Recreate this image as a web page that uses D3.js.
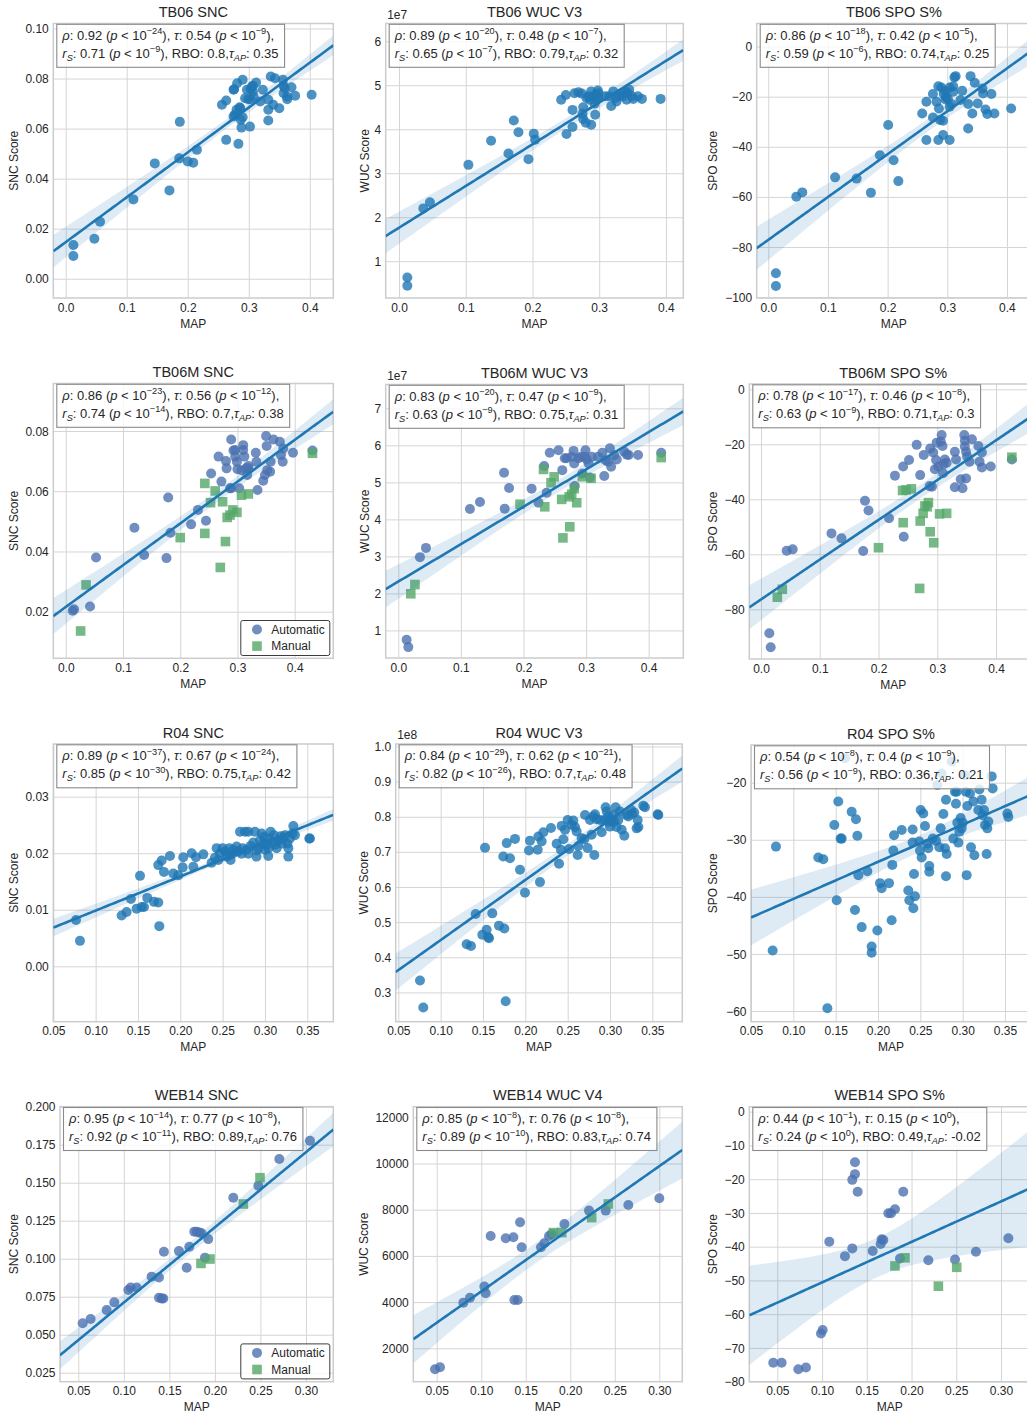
<!DOCTYPE html>
<html>
<head>
<meta charset="utf-8">
<script src="https://cdn.jsdelivr.net/npm/d3@7"></script>
<style>
  html, body { margin: 0; padding: 0; background: #fff; }
  svg { display: block; font-family: "Liberation Sans", Arial, sans-serif; }
</style>
</head>
<body>
<svg id="fig" width="1027" height="1416"></svg>
<script>
// ---------- data: [MAP, score] pairs per panel ----------
const tb06Snc = [[0.0126,0.0135],[0.0126,0.0091],[0.047,0.016],[0.0563,0.0228],[0.111,0.0317],[0.146,0.0461],[0.170,0.0353],[0.186,0.0481],[0.187,0.0627],[0.200,0.0469],[0.209,0.0464],[0.215,0.0515],[0.256,0.0695],[0.263,0.0712],[0.263,0.0555],[0.275,0.0755],[0.276,0.0757],[0.281,0.0781],[0.283,0.0539],[0.275,0.0648],[0.280,0.0675],[0.285,0.0685],[0.287,0.0635],[0.288,0.0604],[0.290,0.0645],[0.290,0.0795],[0.286,0.0681],[0.277,0.0655],[0.299,0.0717],[0.303,0.0717],[0.302,0.0608],[0.303,0.0757],[0.305,0.0768],[0.307,0.0748],[0.312,0.0784],[0.308,0.0728],[0.297,0.0755],[0.323,0.0755],[0.319,0.0708],[0.332,0.0715],[0.332,0.0675],[0.332,0.0632],[0.336,0.0808],[0.343,0.0801],[0.340,0.0695],[0.350,0.0681],[0.356,0.0795],[0.357,0.0771],[0.359,0.0761],[0.357,0.0741],[0.363,0.0728],[0.363,0.0717],[0.370,0.0765],[0.376,0.0731],[0.403,0.0735],[0.307,0.0771],[0.294,0.0721]];

// WUC scores in units of 1e7
const tb06Wuc = [[0.0125,0.63],[0.0125,0.44],[0.0365,2.20],[0.0464,2.34],[0.104,3.19],[0.138,3.74],[0.164,3.45],[0.172,4.20],[0.179,3.93],[0.194,3.32],[0.202,3.90],[0.204,3.76],[0.243,4.67],[0.250,4.78],[0.251,3.89],[0.260,4.05],[0.260,4.44],[0.263,4.82],[0.269,4.84],[0.274,4.81],[0.276,4.50],[0.275,4.35],[0.276,4.23],[0.280,4.15],[0.284,4.75],[0.286,4.67],[0.288,4.86],[0.291,4.75],[0.293,4.58],[0.288,4.10],[0.294,4.33],[0.298,4.88],[0.296,4.67],[0.299,4.71],[0.281,4.71],[0.295,4.78],[0.309,4.75],[0.315,4.75],[0.318,4.53],[0.321,4.86],[0.324,4.71],[0.326,4.63],[0.330,4.75],[0.334,4.82],[0.339,4.86],[0.341,4.67],[0.345,4.90],[0.343,4.82],[0.349,4.75],[0.351,4.69],[0.358,4.75],[0.364,4.69],[0.392,4.69],[0.336,4.75],[0.299,4.82]];

const tb06Spo = [[0.0128,-90.5],[0.0128,-95.6],[0.047,-59.9],[0.057,-58.2],[0.112,-52.2],[0.148,-52.7],[0.172,-58.3],[0.187,-43.4],[0.201,-31.3],[0.210,-45.4],[0.218,-53.7],[0.258,-26.7],[0.265,-22.0],[0.265,-37.3],[0.276,-18.9],[0.276,-28.3],[0.282,-22.0],[0.285,-15.8],[0.285,-37.3],[0.286,-24.7],[0.288,-29.3],[0.290,-16.3],[0.293,-29.6],[0.293,-35.3],[0.294,-18.9],[0.296,-17.6],[0.297,-21.1],[0.301,-20.7],[0.304,-37.3],[0.304,-24.0],[0.307,-22.9],[0.310,-18.0],[0.312,-12.3],[0.314,-11.8],[0.310,-15.8],[0.304,-16.3],[0.322,-21.3],[0.325,-17.6],[0.335,-22.9],[0.335,-32.7],[0.339,-11.8],[0.342,-26.7],[0.346,-14.4],[0.351,-22.7],[0.359,-16.7],[0.360,-18.7],[0.364,-25.1],[0.367,-26.9],[0.374,-18.9],[0.379,-26.7],[0.407,-24.7],[0.298,-20.1]];

const tb06mSncAuto = [[0.0122,0.0203],[0.0146,0.0208],[0.0425,0.0217],[0.053,0.0380],[0.120,0.0479],[0.137,0.0388],[0.176,0.0378],[0.179,0.0579],[0.183,0.0462],[0.219,0.0490],[0.231,0.0538],[0.245,0.0502],[0.254,0.0659],[0.267,0.0715],[0.272,0.0632],[0.280,0.0700],[0.281,0.0676],[0.289,0.0772],[0.289,0.0610],[0.293,0.0735],[0.296,0.0715],[0.299,0.0698],[0.300,0.0673],[0.303,0.0610],[0.307,0.0670],[0.310,0.0753],[0.312,0.0715],[0.315,0.0676],[0.317,0.0654],[0.319,0.0684],[0.332,0.0728],[0.333,0.0698],[0.335,0.0604],[0.345,0.0635],[0.348,0.0654],[0.350,0.0783],[0.351,0.0750],[0.352,0.0670],[0.358,0.0698],[0.357,0.0665],[0.363,0.0772],[0.374,0.0764],[0.376,0.0720],[0.379,0.0698],[0.380,0.0742],[0.397,0.0728],[0.431,0.0735],[0.296,0.0737],[0.287,0.0610],[0.310,0.0737],[0.319,0.0676]];
const tb06mSncManual = [[0.0355,0.0289],[0.026,0.0136],[0.200,0.0446],[0.243,0.0460],[0.243,0.0626],[0.253,0.0562],[0.261,0.0601],[0.270,0.0347],[0.274,0.0565],[0.279,0.0433],[0.282,0.0513],[0.287,0.0521],[0.292,0.0538],[0.299,0.0530],[0.307,0.0587],[0.319,0.0591],[0.431,0.0726]];

const tb06mWucAuto = [[0.0133,0.747],[0.016,0.549],[0.0346,2.98],[0.0442,3.23],[0.1145,4.28],[0.1305,4.47],[0.169,5.26],[0.170,4.29],[0.177,4.85],[0.213,4.83],[0.224,4.45],[0.233,5.44],[0.237,4.72],[0.242,5.80],[0.256,5.87],[0.262,5.33],[0.269,5.65],[0.277,5.69],[0.280,5.85],[0.281,5.51],[0.282,4.90],[0.288,5.65],[0.292,5.69],[0.294,5.24],[0.299,5.87],[0.301,5.62],[0.304,5.51],[0.306,5.13],[0.309,5.69],[0.319,5.69],[0.326,5.80],[0.329,5.17],[0.331,5.60],[0.335,5.56],[0.338,5.92],[0.340,5.42],[0.345,5.74],[0.349,5.62],[0.361,5.83],[0.365,5.75],[0.368,5.74],[0.383,5.74],[0.420,5.80],[0.266,5.65],[0.298,5.69]];
const tb06mWucManual = [[0.020,1.99],[0.0266,2.24],[0.1945,4.41],[0.232,5.35],[0.234,4.34],[0.244,4.99],[0.249,5.15],[0.261,4.54],[0.263,3.50],[0.273,4.61],[0.274,3.80],[0.277,4.68],[0.281,4.83],[0.285,4.45],[0.294,5.15],[0.308,5.11],[0.420,5.67]];

const tb06mSpoAuto = [[0.0142,-88.7],[0.0165,-93.8],[0.0437,-58.7],[0.0539,-58.2],[0.120,-52.4],[0.137,-54.2],[0.174,-58.8],[0.177,-40.5],[0.183,-44.1],[0.218,-46.9],[0.228,-31.4],[0.242,-28.1],[0.243,-53.6],[0.252,-25.7],[0.265,-20.2],[0.271,-31.2],[0.277,-23.9],[0.288,-21.5],[0.287,-35.2],[0.291,-35.4],[0.293,-23.0],[0.296,-29.1],[0.298,-25.7],[0.299,-19.4],[0.302,-28.1],[0.306,-19.0],[0.3075,-16.6],[0.309,-20.6],[0.310,-30.5],[0.311,-27.2],[0.313,-25.5],[0.316,-26.7],[0.330,-22.7],[0.330,-35.6],[0.332,-25.5],[0.340,-32.7],[0.343,-36.0],[0.346,-16.6],[0.347,-18.7],[0.347,-20.8],[0.349,-22.7],[0.349,-32.4],[0.351,-24.5],[0.355,-26.3],[0.359,-18.2],[0.370,-20.6],[0.372,-26.3],[0.376,-23.0],[0.376,-28.4],[0.391,-28.1],[0.427,-25.5]];
const tb06mSpoManual = [[0.0278,-75.6],[0.0363,-72.7],[0.200,-57.6],[0.241,-36.8],[0.242,-48.5],[0.247,-36.6],[0.256,-36.2],[0.271,-47.9],[0.270,-72.4],[0.276,-45.1],[0.279,-42.4],[0.285,-41.2],[0.288,-51.8],[0.294,-55.8],[0.304,-45.3],[0.316,-45.1],[0.427,-24.7],[0.283,-42.7]];

const r04Snc = [[0.0768,0.0082],[0.0815,0.0045],[0.1307,0.0090],[0.1366,0.0096],[0.1417,0.0119],[0.1484,0.0102],[0.1524,0.0160],[0.1543,0.0105],[0.1571,0.0105],[0.161,0.0121],[0.1689,0.0114],[0.1740,0.0113],[0.1752,0.0071],[0.1740,0.0179],[0.178,0.0187],[0.1807,0.0167],[0.1878,0.0195],[0.1917,0.0164],[0.1976,0.0161],[0.2028,0.0175],[0.2035,0.0193],[0.2134,0.0200],[0.2154,0.0176],[0.2185,0.0193],[0.2272,0.0198],[0.2370,0.0183],[0.2409,0.0192],[0.2429,0.0209],[0.2449,0.0188],[0.2469,0.0200],[0.2500,0.0209],[0.2528,0.0203],[0.2547,0.0194],[0.2579,0.0209],[0.2594,0.0188],[0.2626,0.0200],[0.2665,0.0212],[0.2685,0.0203],[0.2705,0.0238],[0.2724,0.0199],[0.2736,0.0209],[0.2764,0.0238],[0.2783,0.0206],[0.2803,0.0238],[0.2803,0.0199],[0.2831,0.0213],[0.2862,0.0219],[0.2882,0.0238],[0.2902,0.0205],[0.2921,0.0209],[0.2941,0.0223],[0.2961,0.0235],[0.2980,0.0217],[0.2988,0.0229],[0.3000,0.0206],[0.3020,0.0215],[0.3039,0.0195],[0.3051,0.0226],[0.3067,0.0238],[0.3091,0.0220],[0.3106,0.0232],[0.3118,0.0215],[0.3138,0.0209],[0.3169,0.0223],[0.3185,0.0230],[0.3209,0.0225],[0.3236,0.0232],[0.3264,0.0217],[0.3276,0.0209],[0.3295,0.0226],[0.3327,0.0235],[0.3335,0.0248],[0.3354,0.0232],[0.3276,0.0194],[0.3524,0.0226],[0.3531,0.0226],[0.304,0.0209],[0.320,0.0217],[0.290,0.0194],[0.2626,0.0206],[0.2587,0.0197]];

// WUC scores in units of 1e8
const r04Wuc = [[0.0756,0.334],[0.0795,0.257],[0.1307,0.437],[0.1358,0.432],[0.1413,0.523],[0.1492,0.464],[0.1524,0.712],[0.1543,0.478],[0.1563,0.457],[0.1571,0.454],[0.161,0.525],[0.1689,0.490],[0.1740,0.687],[0.1752,0.482],[0.1768,0.275],[0.178,0.725],[0.1819,0.682],[0.1878,0.737],[0.1937,0.649],[0.1996,0.584],[0.2043,0.704],[0.2055,0.732],[0.2146,0.706],[0.2154,0.744],[0.2173,0.614],[0.2193,0.730],[0.2213,0.756],[0.2303,0.768],[0.2370,0.723],[0.2398,0.666],[0.2421,0.706],[0.2429,0.774],[0.2449,0.736],[0.2469,0.763],[0.2500,0.791],[0.2516,0.708],[0.2547,0.777],[0.2567,0.789],[0.2587,0.771],[0.2606,0.758],[0.2618,0.691],[0.2626,0.717],[0.2665,0.739],[0.2697,0.736],[0.2705,0.805],[0.2736,0.711],[0.2764,0.791],[0.2783,0.749],[0.2803,0.801],[0.2815,0.691],[0.2823,0.807],[0.2843,0.793],[0.2902,0.756],[0.2933,0.791],[0.2949,0.827],[0.2961,0.815],[0.2980,0.801],[0.3000,0.772],[0.3012,0.791],[0.3039,0.805],[0.3051,0.786],[0.3067,0.827],[0.3079,0.771],[0.3098,0.791],[0.3118,0.815],[0.3138,0.763],[0.3169,0.746],[0.3197,0.805],[0.3217,0.801],[0.3248,0.820],[0.3264,0.808],[0.3287,0.812],[0.3315,0.767],[0.3327,0.791],[0.3335,0.771],[0.3394,0.831],[0.3413,0.827],[0.3563,0.807],[0.3571,0.805],[0.2882,0.791],[0.298,0.786]];

const r04Spo = [[0.0756,-49.4],[0.0795,-31.2],[0.1295,-33.1],[0.1354,-33.4],[0.1402,-59.5],[0.1484,-27.4],[0.1512,-40.6],[0.1531,-23.3],[0.1559,-29.8],[0.1571,-29.8],[0.161,-15.7],[0.1689,-25.1],[0.1728,-42.3],[0.1740,-26.4],[0.1756,-29.3],[0.1768,-36.2],[0.1807,-45.3],[0.1874,-35.5],[0.1925,-48.7],[0.1925,-49.8],[0.1992,-45.9],[0.2024,-37.6],[0.2043,-38.5],[0.2130,-37.6],[0.2161,-44.1],[0.2169,-34.4],[0.2181,-31.9],[0.2189,-29.2],[0.2280,-28.3],[0.2358,-38.9],[0.2370,-40.6],[0.2409,-28.2],[0.2409,-30.5],[0.2417,-42.0],[0.2425,-36.0],[0.2437,-39.9],[0.2488,-30.3],[0.2496,-31.9],[0.2504,-24.8],[0.2516,-33.1],[0.2535,-25.4],[0.2555,-27.6],[0.2583,-30.7],[0.2594,-31.5],[0.2606,-34.6],[0.2606,-35.6],[0.2646,-29.8],[0.2685,-30.2],[0.2701,-20.4],[0.2724,-31.3],[0.2740,-28.0],[0.2752,-18.4],[0.2772,-25.5],[0.2791,-31.5],[0.2803,-23.0],[0.2803,-36.4],[0.2811,-32.5],[0.2870,-16.3],[0.2890,-29.8],[0.2909,-21.6],[0.2921,-23.7],[0.2929,-21.6],[0.2937,-27.0],[0.2949,-30.5],[0.2961,-28.6],[0.2976,-26.2],[0.2988,-28.0],[0.3000,-27.0],[0.3028,-18.7],[0.3039,-21.6],[0.3047,-36.2],[0.3055,-24.1],[0.3087,-21.9],[0.3098,-31.3],[0.3126,-23.3],[0.3138,-32.7],[0.3185,-24.8],[0.3197,-21.2],[0.3224,-23.0],[0.3236,-25.7],[0.3252,-24.8],[0.3264,-27.4],[0.3283,-32.5],[0.3291,-28.0],[0.3303,-26.8],[0.3343,-18.9],[0.3354,-21.0],[0.3528,-25.4],[0.3539,-26.0]];

const web14SncAuto = [[0.0548,0.0575],[0.0635,0.0603],[0.0811,0.0662],[0.0895,0.0713],[0.1049,0.0794],[0.1075,0.0811],[0.114,0.0811],[0.1305,0.0882],[0.1386,0.0877],[0.1386,0.0743],[0.1415,0.0739],[0.1433,0.0739],[0.144,0.1046],[0.1605,0.1050],[0.1690,0.0941],[0.1719,0.1079],[0.1774,0.1178],[0.1799,0.1178],[0.1829,0.1173],[0.1854,0.1167],[0.1891,0.1007],[0.1927,0.1129],[0.2202,0.1401],[0.2477,0.1480],[0.2707,0.1656],[0.3044,0.1776]];
const web14SncManual = [[0.1847,0.0969],[0.1946,0.0998],[0.2312,0.1360],[0.2495,0.1533]];

const web14WucAuto = [[0.0481,1091],[0.0537,1178],[0.0799,3977],[0.0874,4193],[0.1035,4670],[0.1050,4381],[0.1106,6863],[0.1275,6762],[0.1361,6805],[0.1372,4092],[0.1410,4092],[0.1436,7455],[0.1454,6372],[0.1671,6372],[0.1709,6545],[0.1761,6863],[0.1791,6949],[0.1934,7382],[0.2210,7960],[0.2398,7960],[0.2652,8205],[0.3000,8494]];
const web14WucManual = [[0.1810,7007],[0.1904,7007],[0.2240,7657],[0.2427,8248]];

const web14SpoAuto = [[0.0455,-74.4],[0.0548,-74.4],[0.0735,-76.3],[0.0820,-75.8],[0.0988,-65.7],[0.1007,-64.7],[0.1081,-38.5],[0.1256,-42.8],[0.1338,-40.5],[0.1338,-20.2],[0.1368,-18.5],[0.1368,-15.0],[0.1398,-23.7],[0.1566,-41.3],[0.1655,-39.2],[0.1666,-37.8],[0.1685,-38.0],[0.1741,-30.1],[0.1771,-30.1],[0.1815,-28.9],[0.1871,-43.5],[0.1908,-23.7],[0.2188,-44.0],[0.2486,-43.8],[0.2720,-41.5],[0.3082,-37.5]];
const web14SpoManual = [[0.1815,-45.7],[0.1927,-43.3],[0.2300,-51.7],[0.2505,-46.1]];

// ---------- correlation statistics shown in each panel ----------
// [rho, p-exp, tau, p-exp, rS, p-exp, RBO, tauAP]
const statsTb06Snc   = ["0.92","−24","0.54","−9","0.71","−9","0.8","0.35"];
const statsTb06Wuc   = ["0.89","−20","0.48","−7","0.65","−7","0.79","0.32"];
const statsTb06Spo   = ["0.86","−18","0.42","−5","0.59","−6","0.74","0.25"];
const statsTb06mSnc  = ["0.86","−23","0.56","−12","0.74","−14","0.7","0.38"];
const statsTb06mWuc  = ["0.83","−20","0.47","−9","0.63","−9","0.75","0.31"];
const statsTb06mSpo  = ["0.78","−17","0.46","−8","0.63","−9","0.71","0.3"];
const statsR04Snc    = ["0.89","−37","0.67","−24","0.85","−30","0.75","0.42"];
const statsR04Wuc    = ["0.84","−29","0.62","−21","0.82","−26","0.7","0.48"];
const statsR04Spo    = ["0.54","−8","0.4","−9","0.56","−9","0.36","0.21"];
const statsWeb14Snc  = ["0.95","−14","0.77","−8","0.92","−11","0.89","0.76"];
const statsWeb14Wuc  = ["0.85","−8","0.76","−8","0.89","−10","0.83","0.74"];
const statsWeb14Spo  = ["0.44","−1","0.15","0","0.24","0","0.49","-0.02"];

// ---------- tick values ----------
const mapTicksA = [0, 0.1, 0.2, 0.3, 0.4];
const mapTicksB = [0.05, 0.10, 0.15, 0.20, 0.25, 0.30, 0.35];
const mapTicksC = [0.05, 0.10, 0.15, 0.20, 0.25, 0.30];
const yTicksTb06Snc  = [0, 0.02, 0.04, 0.06, 0.08, 0.10];
const yTicksTb06Wuc  = [1, 2, 3, 4, 5, 6];
const yTicksTb06Spo  = [-100, -80, -60, -40, -20, 0];
const yTicksTb06mSnc = [0.02, 0.04, 0.06, 0.08];
const yTicksTb06mWuc = [1, 2, 3, 4, 5, 6, 7];
const yTicksTb06mSpo = [-80, -60, -40, -20, 0];
const yTicksR04Snc   = [0, 0.01, 0.02, 0.03];
const yTicksR04Wuc   = [0.3, 0.4, 0.5, 0.6, 0.7, 0.8, 0.9, 1.0];
const yTicksR04Spo   = [-60, -50, -40, -30, -20];
const yTicksWeb14Snc = [0.025, 0.05, 0.075, 0.1, 0.125, 0.15, 0.175, 0.2];
const yTicksWeb14Wuc = [2000, 4000, 6000, 8000, 10000, 12000];
const yTicksWeb14Spo = [-80, -70, -60, -50, -40, -30, -20, -10, 0];

// ---------- styling ----------
const C0 = "#1f77b4", AUTO = "#4c72b0", MANUAL = "#55a868";
const TEXT = "#262626", GRID = "#d5d5d5", FRAME = "#cccccc";

const single = pts => [{pts, color: C0, shape: "circle"}];
const paired = (a, m) => [{pts: a, color: AUTO, shape: "circle", name: "Automatic"},
                          {pts: m, color: MANUAL, shape: "square", name: "Manual"}];

const panels = [
  {title:"TB06 SNC", ylab:"SNC Score", ylx:14, L:53.3, R:333.3, T:23.5, B:298, xDom:[-0.0203,0.4385], yDom:[-0.0077,0.102],
   xTicks:mapTicksA, xFmt:".1f", yTicks:yTicksTb06Snc, yFmt:".2f", series:single(tb06Snc), stats:statsTb06Snc},
  {title:"TB06 WUC V3", ylab:"WUC Score", ylx:364.5, L:385.7, R:683.3, T:23.5, B:298, xDom:[-0.0199,0.426], yDom:[0.163,6.404],
   xTicks:mapTicksA, xFmt:".1f", yTicks:yTicksTb06Wuc, yFmt:"d", offset:"1e7", series:single(tb06Wuc), stats:statsTb06Wuc},
  {title:"TB06 SPO S%", ylab:"SPO Score", ylx:713, L:756.7, R:1031, T:23.5, B:298, xDom:[-0.0194,0.4403], yDom:[-100.36,9.22],
   xTicks:mapTicksA, xFmt:".1f", yTicks:yTicksTb06Spo, yFmt:"d", series:single(tb06Spo), stats:statsTb06Spo},

  {title:"TB06M SNC", ylab:"SNC Score", ylx:14, L:53.3, R:333.3, T:383.5, B:658.3, xDom:[-0.0217,0.4674], yDom:[0.00453,0.09577],
   xTicks:mapTicksA, xFmt:".1f", yTicks:yTicksTb06mSnc, yFmt:".2f", series:paired(tb06mSncAuto, tb06mSncManual), stats:statsTb06mSnc, legend:true},
  {title:"TB06M WUC V3", ylab:"WUC Score", ylx:364.5, L:385.7, R:683.3, T:384.5, B:658, xDom:[-0.0201,0.4553], yDom:[0.255,7.644],
   xTicks:mapTicksA, xFmt:".1f", yTicks:yTicksTb06mWuc, yFmt:"d", offset:"1e7", series:paired(tb06mWucAuto, tb06mWucManual), stats:statsTb06mWuc},
  {title:"TB06M SPO S%", ylab:"SPO Score", ylx:713, L:749.3, R:1037, T:384, B:659, xDom:[-0.0199,0.4698], yDom:[-98.07,1.93],
   xTicks:mapTicksA, xFmt:".1f", yTicks:yTicksTb06mSpo, yFmt:"d", series:paired(tb06mSpoAuto, tb06mSpoManual), stats:statsTb06mSpo},

  {title:"R04 SNC", ylab:"SNC Score", ylx:13.5, L:53.3, R:333.3, T:744, B:1021.7, xDom:[0.05,0.3807], yDom:[-0.0098,0.03932],
   xTicks:mapTicksB, xFmt:".2f", yTicks:yTicksR04Snc, yFmt:".2f", series:single(r04Snc), stats:statsR04Snc},
  {title:"R04 WUC V3", ylab:"WUC Score", ylx:363.7, L:395.7, R:682.3, T:744, B:1021.7, xDom:[0.0469,0.3854], yDom:[0.2166,1.0071],
   xTicks:mapTicksB, xFmt:".2f", yTicks:yTicksR04Wuc, yFmt:".1f", offset:"1e8", series:single(r04Wuc), stats:statsR04Wuc},
  {title:"R04 SPO S%", ylab:"SPO Score", ylx:713, L:751, R:1031, T:745, B:1021.7, xDom:[0.05,0.3807], yDom:[-61.87,-13.4],
   xTicks:mapTicksB, xFmt:".2f", yTicks:yTicksR04Spo, yFmt:"d", series:single(r04Spo), stats:statsR04Spo},

  {title:"WEB14 SNC", ylab:"SNC Score", ylx:13.5, L:60, R:333.3, T:1106.7, B:1381.7, xDom:[0.0299,0.330], yDom:[0.0191,0.2],
   xTicks:mapTicksC, xFmt:".2f", yTicks:yTicksWeb14Snc, yFmt:".3f", series:paired(web14SncAuto, web14SncManual), stats:statsWeb14Snc, legend:true},
  {title:"WEB14 WUC V4", ylab:"WUC Score", ylx:363.7, L:413.3, R:682.3, T:1106.7, B:1381.7, xDom:[0.0237,0.3258], yDom:[554,12459],
   xTicks:mapTicksC, xFmt:".2f", yTicks:yTicksWeb14Wuc, yFmt:"d", series:paired(web14WucAuto, web14WucManual), stats:statsWeb14Wuc},
  {title:"WEB14 SPO S%", ylab:"SPO Score", ylx:713, L:749.3, R:1030, T:1106.7, B:1381.7, xDom:[0.0187,0.3324], yDom:[-80,1.48],
   xTicks:mapTicksC, xFmt:".2f", yTicks:yTicksWeb14Spo, yFmt:"d", series:paired(web14SpoAuto, web14SpoManual), stats:statsWeb14Spo}
];

const svg = d3.select("#fig");

// ordinary least squares fit with a 95% confidence band for the mean
function fitLine(pts) {
  const n = pts.length;
  const mx = d3.mean(pts, d => d[0]), my = d3.mean(pts, d => d[1]);
  let sxx = 0, sxy = 0;
  pts.forEach(([a, b]) => { sxx += (a - mx) ** 2; sxy += (a - mx) * (b - my); });
  const b1 = sxy / sxx, b0 = my - b1 * mx;
  let sse = 0;
  pts.forEach(([a, b]) => { sse += (b - b0 - b1 * a) ** 2; });
  const s = Math.sqrt(sse / (n - 2));
  const t = 1.96 + 2.4 / (n - 2);
  return {
    y: xv => b0 + b1 * xv,
    half: xv => t * s * Math.sqrt(1 / n + (xv - mx) ** 2 / sxx)
  };
}

// rich text pieces: [text, italic, shift] where shift is "sup" | "sub" | null
function statLines(s) {
  return [
    [["ρ", true], [": " + s[0] + " ("], ["p", true], [" < 10"], [s[1], false, "sup"], ["), "],
     ["τ", true], [": " + s[2] + " ("], ["p", true], [" < 10"], [s[3], false, "sup"], ["),"]],
    [["r", true], ["S", true, "sub"], [": " + s[4] + " ("], ["p", true], [" < 10"], [s[5], false, "sup"],
     ["), RBO: " + s[6] + ","], ["τ", true], ["AP", true, "sub"], [": " + s[7]]]
  ];
}

const R = 5;     // marker radius
const SQ = 9.6;  // square marker side

panels.forEach((p, i) => {
  const x = d3.scaleLinear().domain(p.xDom).range([p.L, p.R]);
  const y = d3.scaleLinear().domain(p.yDom).range([p.B, p.T]);
  const W = p.R - p.L, H = p.B - p.T;
  const g = svg.append("g");

  const clipId = "clip" + i;
  svg.append("clipPath").attr("id", clipId)
    .append("rect").attr("x", p.L).attr("y", p.T).attr("width", W).attr("height", H);

  // grid + tick labels
  const xAxis = g.append("g").attr("transform", `translate(0,${p.B})`)
    .call(d3.axisBottom(x).tickValues(p.xTicks).tickFormat(d3.format(p.xFmt)).tickSize(-H).tickPadding(5));
  const yAxis = g.append("g").attr("transform", `translate(${p.L},0)`)
    .call(d3.axisLeft(y).tickValues(p.yTicks).tickFormat(d3.format(p.yFmt)).tickSize(-W).tickPadding(4.5));
  [xAxis, yAxis].forEach(a => {
    a.select(".domain").remove();
    a.selectAll(".tick line").attr("stroke", GRID).attr("stroke-width", 1);
    a.selectAll(".tick text").attr("fill", TEXT).attr("font-size", 12)
      .attr("font-family", "Liberation Sans, Arial, sans-serif");
  });
  xAxis.selectAll(".tick text").attr("dy", "0.71em");
  yAxis.selectAll(".tick text").attr("dy", "0.34em");

  // frame
  g.append("rect").attr("x", p.L).attr("y", p.T).attr("width", W).attr("height", H)
    .attr("fill", "none").attr("stroke", FRAME).attr("stroke-width", 1.5);

  const plot = g.append("g").attr("clip-path", `url(#${clipId})`);

  // scatter
  p.series.forEach(s => {
    if (s.shape === "square") {
      plot.append("g").selectAll("rect").data(s.pts).join("rect")
        .attr("x", d => x(d[0]) - SQ / 2).attr("y", d => y(d[1]) - SQ / 2)
        .attr("width", SQ).attr("height", SQ)
        .attr("fill", s.color).attr("fill-opacity", 0.8);
    } else {
      plot.append("g").selectAll("circle").data(s.pts).join("circle")
        .attr("cx", d => x(d[0])).attr("cy", d => y(d[1])).attr("r", R)
        .attr("fill", s.color).attr("fill-opacity", 0.8);
    }
  });

  // regression line with confidence band over all points
  const all = p.series.flatMap(s => s.pts);
  const fit = fitLine(all);
  const xs = d3.range(0, 121).map(k => p.xDom[0] + k * (p.xDom[1] - p.xDom[0]) / 120);
  plot.append("path").datum(xs)
    .attr("d", d3.area().x(d => x(d)).y0(d => y(fit.y(d) - fit.half(d))).y1(d => y(fit.y(d) + fit.half(d))))
    .attr("fill", C0).attr("fill-opacity", 0.15);
  plot.append("path").datum(xs)
    .attr("d", d3.line().x(d => x(d)).y(d => y(fit.y(d))))
    .attr("fill", "none").attr("stroke", C0).attr("stroke-width", 2.6);

  // statistics box
  const box = g.append("g");
  const bx = p.L + 3.5, by = p.T + 0.8;
  const bg = box.append("rect");
  const txt = box.append("text").attr("font-size", 13).attr("fill", TEXT);
  statLines(p.stats).forEach((line, li) => {
    const t = txt.append("tspan").attr("x", bx + 5.5).attr("y", by + 15.5 + li * 18);
    let cur = 0;
    line.forEach(([str, it, shift]) => {
      const sp = t.append("tspan").text(str);
      if (it) sp.attr("font-style", "italic");
      let target = 0;
      if (shift === "sup") { sp.attr("font-size", 9.2); target = -5.5; }
      else if (shift === "sub") { sp.attr("font-size", 9.2); target = 3; }
      if (target !== cur) { sp.attr("dy", target - cur); cur = target; }
    });
  });
  const bb = txt.node().getBBox();
  bg.attr("x", bx).attr("y", by).attr("width", bb.x + bb.width - bx + 6).attr("height", 43)
    .attr("fill", "#fff").attr("fill-opacity", 0.8).attr("stroke", "#8a8a8a").attr("stroke-width", 1.1);

  // legend (Automatic / Manual)
  if (p.legend) {
    const lw = 89, lh = 35, lx = p.R - 3.5 - lw, ly = p.B - 2.8 - lh;
    const lg = g.append("g");
    lg.append("rect").attr("x", lx).attr("y", ly).attr("width", lw).attr("height", lh).attr("rx", 2)
      .attr("fill", "#fff").attr("fill-opacity", 0.8).attr("stroke", "#3c3c3c").attr("stroke-width", 1);
    p.series.forEach((s, k) => {
      const cy = ly + 9 + k * 16.6, cx = lx + 16.2;
      if (s.shape === "square") {
        lg.append("rect").attr("x", cx - SQ / 2).attr("y", cy - SQ / 2).attr("width", SQ).attr("height", SQ)
          .attr("fill", s.color).attr("fill-opacity", 0.8);
      } else {
        lg.append("circle").attr("cx", cx).attr("cy", cy).attr("r", R)
          .attr("fill", s.color).attr("fill-opacity", 0.8);
      }
      lg.append("text").attr("x", lx + 30.5).attr("y", cy + 4.2).attr("font-size", 12)
        .attr("fill", TEXT).text(s.name);
    });
  }

  // titles and labels
  g.append("text").attr("x", (p.L + p.R) / 2).attr("y", p.T - 6.3).attr("text-anchor", "middle")
    .attr("font-size", 14.5).attr("fill", TEXT).text(p.title);
  g.append("text").attr("x", (p.L + p.R) / 2).attr("y", p.B + 29.5).attr("text-anchor", "middle")
    .attr("font-size", 12).attr("fill", TEXT).text("MAP");
  g.append("text").attr("transform", `translate(${p.ylx + 4.3},${(p.T + p.B) / 2}) rotate(-90)`)
    .attr("text-anchor", "middle").attr("font-size", 12).attr("fill", TEXT).text(p.ylab);
  if (p.offset) {
    g.append("text").attr("x", p.L + 1.5).attr("y", p.T - 5).attr("font-size", 12)
      .attr("fill", TEXT).text(p.offset);
  }
});
</script>
</body>
</html>
